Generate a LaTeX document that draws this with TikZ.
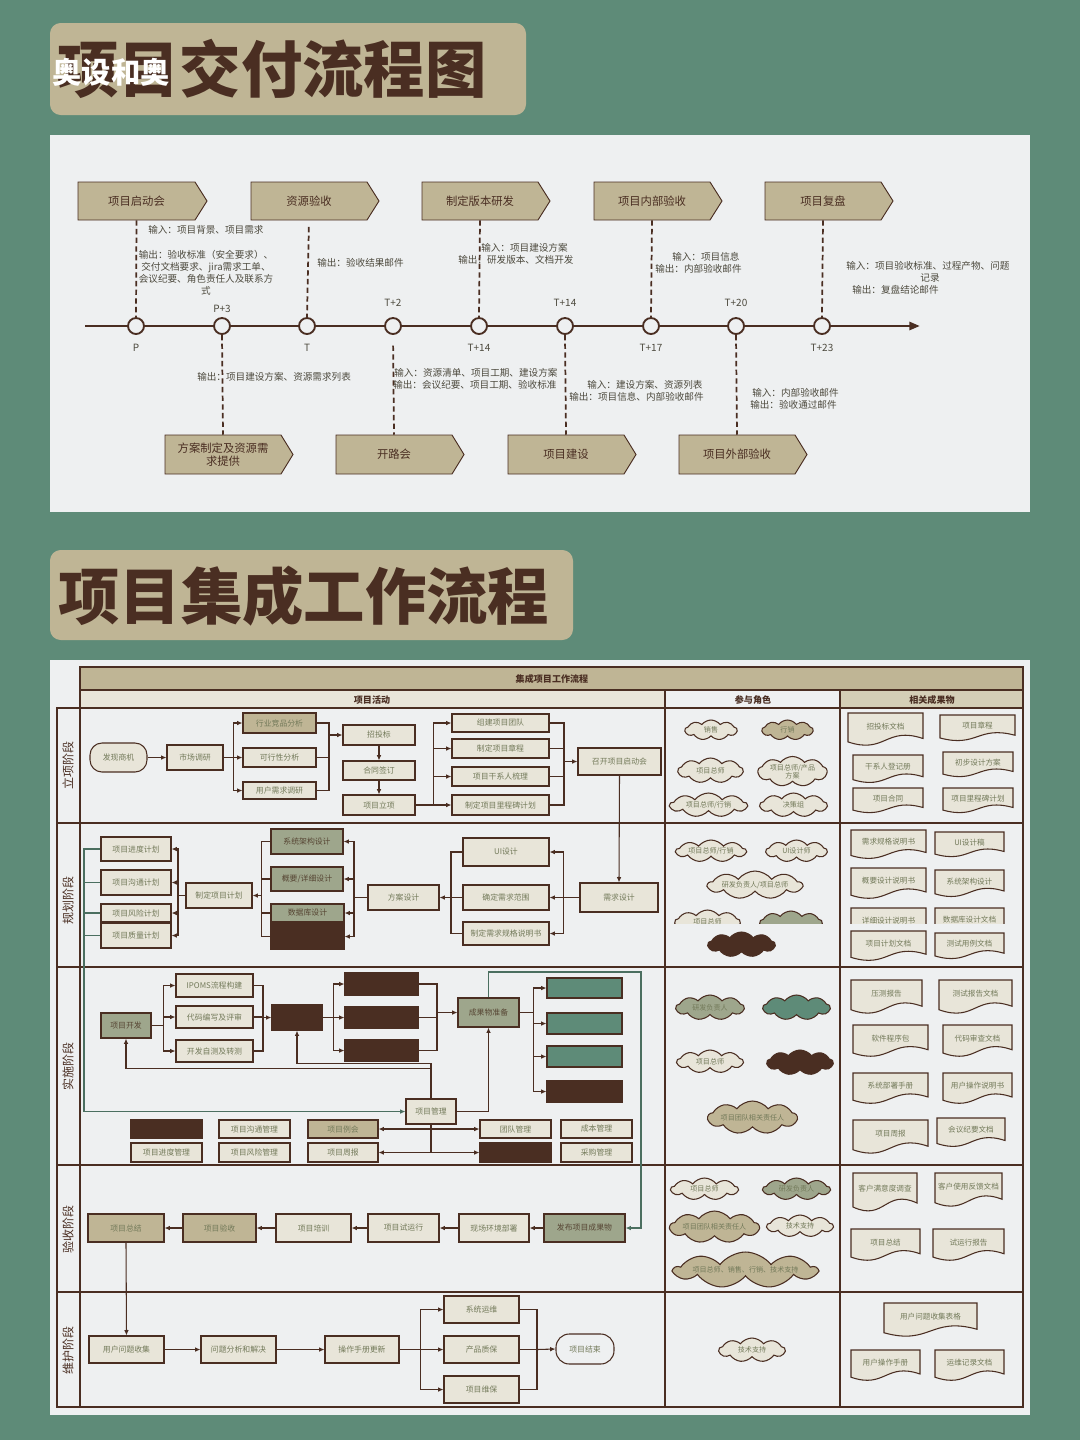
\documentclass[tikz,border=0pt]{standalone}
\usepackage{fontspec}
\setmainfont{Noto Sans CJK SC}
\usetikzlibrary{arrows.meta,shapes.symbols,calc}
\definecolor{bgteal}{HTML}{5E8B78}
\definecolor{tan}{HTML}{BFB595}
\definecolor{brn}{HTML}{4A2E22}
\definecolor{panel}{HTML}{EEF0F1}
\definecolor{ltf}{HTML}{E8E5D9}
\definecolor{tmix}{HTML}{9EA68C}
\definecolor{olv}{HTML}{737A5A}
\definecolor{anno}{HTML}{4D4A3E}
\definecolor{hdr}{HTML}{D4CEB6}

% box from corner coordinates: name, x1, y1, x2, y2, style, text
\newcommand\bx[7]{\node[#6, minimum width={(#4-#2)*0.75pt}, minimum height={(#5-#3)*0.75pt}] (#1) at ({(#2+#4)/2},{(#3+#5)/2}) {#7};}
% cloud: name, x1, y1, x2, y2, fill, text
\newcommand\cld[7]{\node[rolecloud, fill=#6, minimum width={(#4-#2)*0.75pt}, minimum height={(#5-#3)*0.75pt}] (#1) at ({(#2+#4)/2},{(#3+#5)/2}) {#7};}
% document with a wavy lower edge: name, x1, y1, x2, y2, fill, text
\newcommand\docu[7]{%
  \path[draw=brn, line width=0.8pt, fill=#6] (#2,#3) -- (#4,#3) -- (#4,{#5-0.25*(#5-#3)})
    .. controls ({#4-0.5*(#4-#2)},{#5-0.62*(#5-#3)}) and ({#2+0.5*(#4-#2)},{#5+0.22*(#5-#3)}) .. (#2,{#5-0.15*(#5-#3)}) -- cycle;
  \node[doctxt] (#1) at ({(#2+#4)/2},{#3+0.4*(#5-#3)}) {#7};}
% milestone tag with pointed right end: name, x1, y1, x2, y2, text
\newcommand\chev[6]{%
  \path[draw=brn, line width=0.7pt, fill=tan] (#2,#3) -- ({#4-12},#3) -- (#4,{(#3+#5)/2}) -- ({#4-12},#5) -- (#2,#5) -- cycle;
  \node[chevtxt, minimum width={(#4-12-#2)*0.75pt}, minimum height={(#5-#3)*0.75pt}] (#1) at ({(#2+#4-12)/2},{(#3+#5)/2}) {#6};}

\tikzset{
  tbox/.style={draw=brn, line width=0.8pt, inner sep=0.5pt, font=\fontsize{5.9}{6.6}\selectfont, text=olv, align=center},
  lt/.style={tbox, fill=ltf},
  tn/.style={tbox, fill=tan},
  dk/.style={tbox, fill=brn},
  tl/.style={tbox, fill=bgteal},
  tt/.style={tbox, fill=tmix, text=brn!70!olv},
  rolecloud/.style={cloud, cloud puffs=9, cloud puff arc=105, cloud ignores aspect, draw=brn, line width=0.8pt, inner sep=0pt, font=\fontsize{5.3}{6}\selectfont, text=olv, align=center},
  doctxt/.style={inner sep=0pt, font=\fontsize{5.7}{6.4}\selectfont, text=olv, align=center},
  chevtxt/.style={inner sep=0pt, font=\fontsize{8.5}{10}\selectfont, text=brn, align=center},
  anntxt/.style={inner sep=0pt, font=\fontsize{7.2}{9}\selectfont, text=anno, align=center},
  ticktxt/.style={inner sep=0pt, font=\fontsize{7.5}{9}\selectfont, text=anno},
  mstone/.style={circle, draw=brn, line width=1.4pt, fill=panel, minimum size=12pt, inner sep=0pt},
  guide/.style={draw=brn, line width=1.3pt, dash pattern=on 4pt off 2.5pt},
  arr/.style={-{Latex[length=4pt,width=3.5pt]}, draw=brn, line width=0.8pt},
  ln/.style={draw=brn, line width=0.8pt},
  tarr/.style={-{Latex[length=4pt,width=3.5pt]}, draw=bgteal!80!black, line width=0.9pt},
  tln/.style={draw=bgteal!80!black, line width=0.9pt},
  grid/.style={draw=brn, line width=0.9pt},
  stage/.style={rotate=90, inner sep=0pt, font=\fontsize{9}{10}\selectfont, text=brn},
  headline/.style={inner sep=0pt, font=\bfseries\fontsize{46}{48}\selectfont, text=brn},
}

\begin{document}
\begin{tikzpicture}[x=0.75pt, y=-0.75pt]
\useasboundingbox (0,0) rectangle (1080,1440);
\fill[bgteal] (0,0) rectangle (1080,1440);

% ---------------- headline 1 ----------------
\fill[tan, rounded corners=8pt] (50,23) rectangle (526,115);
\node[headline] (title1) at (272,69) {项目交付流程图};
\node[inner sep=0pt, font=\bfseries\fontsize{22}{24}\selectfont, text=white] (mark) at (111,72) {奥设和奥};

% ---------------- delivery timeline ----------------
\fill[panel] (50,135) rectangle (1030,512);

\coordinate (t0) at (85,326);
\coordinate (t1) at (920,326);
\draw[brn, line width=2pt, -{Triangle[length=8pt,width=6pt]}] (t0) -- (t1);

\node[mstone] (c1) at (136,326) {};
\node[mstone] (c2) at (222,326) {};
\node[mstone] (c3) at (307,326) {};
\node[mstone] (c4) at (393,326) {};
\node[mstone] (c5) at (479,326) {};
\node[mstone] (c6) at (565,326) {};
\node[mstone] (c7) at (651,326) {};
\node[mstone] (c8) at (736,326) {};
\node[mstone] (c9) at (822,326) {};

\node[ticktxt] (l1) at (136,348) {P};
\node[ticktxt] (l2) at (222,309) {P+3};
\node[ticktxt] (l3) at (307,348) {T};
\node[ticktxt] (l4) at (393,303) {T+2};
\node[ticktxt] (l5) at (479,348) {T+14};
\node[ticktxt] (l6) at (565,303) {T+14};
\node[ticktxt] (l7) at (651,348) {T+17};
\node[ticktxt] (l8) at (736,303) {T+20};
\node[ticktxt] (l9) at (822,348) {T+23};

\chev{m1}{78}{182}{207}{220}{项目启动会}
\chev{m2}{251}{182}{379}{220}{资源验收}
\chev{m3}{422}{182}{550}{220}{制定版本研发}
\chev{m4}{594}{182}{722}{220}{项目内部验收}
\chev{m5}{765}{182}{893}{220}{项目复盘}
\chev{m6}{165}{435}{293}{474}{方案制定及资源需\\求提供}
\chev{m7}{336}{435}{464}{474}{开路会}
\chev{m8}{508}{435}{636}{474}{项目建设}
\chev{m9}{679}{435}{807}{474}{项目外部验收}

\draw[guide] (m1.south) -- (c1.north);
\draw[guide, shorten <=5pt] (m2.south) -- (c3.north);
\draw[guide] (m3.south) -- (c5.north);
\draw[guide] (m4.south) -- (c7.north);
\draw[guide] (m5.south) -- (c9.north);
\draw[guide] (c2.south) -- (m6.north);
\draw[guide, shorten <=8pt] (c4.south) -- (m7.north);
\draw[guide] (c6.south) -- (m8.north);
\draw[guide] (c8.south) -- (m9.north);

\node[anntxt, anchor=west] (a1) at (148,230) {输入：项目背景、项目需求};
\node[anntxt] (a2) at (206,273) {输出：验收标准（安全要求）、\\交付文档要求、jira需求工单、\\会议纪要、角色责任人及联系方\\式};
\node[anntxt, anchor=west] (a3) at (317,263) {输出：验收结果邮件};
\node[anntxt, anchor=west] (a4) at (481,248) {输入：项目建设方案};
\node[anntxt, anchor=west] (a5) at (458,260) {输出：研发版本、文档开发};
\node[anntxt, anchor=west] (a6) at (672,257) {输入：项目信息};
\node[anntxt, anchor=west] (a7) at (655,269) {输出：内部验收邮件};
\node[anntxt, anchor=west] (a8) at (846,266) {输入：项目验收标准、过程产物、问题};
\node[anntxt] (a9) at (930,278) {记录};
\node[anntxt, anchor=west] (a10) at (852,290) {输出：复盘结论邮件};
\node[anntxt, anchor=west] (a11) at (197,377) {输出：项目建设方案、资源需求列表};
\node[anntxt, anchor=west] (a12) at (394,373) {输入：资源清单、项目工期、建设方案};
\node[anntxt, anchor=west] (a13) at (393,385) {输出：会议纪要、项目工期、验收标准};
\node[anntxt, anchor=west] (a14) at (587,385) {输入：建设方案、资源列表};
\node[anntxt, anchor=west] (a15) at (569,397) {输出：项目信息、内部验收邮件};
\node[anntxt, anchor=west] (a16) at (752,393) {输入：内部验收邮件};
\node[anntxt, anchor=west] (a17) at (750,405) {输出：验收通过邮件};

% ---------------- headline 2 ----------------
\fill[tan, rounded corners=8pt] (50,550) rectangle (573,640);
\node[headline] (title2) at (304,596) {项目集成工作流程};

% ---------------- integration workflow table ----------------
\fill[panel] (50,660) rectangle (1030,1415);
\path[grid, fill=tan] (80,667) rectangle (1023,690);
\node[inner sep=0pt, font=\bfseries\fontsize{6.8}{8}\selectfont, text=brn] (h0) at (552,679) {集成项目工作流程};
\path[grid, fill=ltf] (80,690) rectangle (665,708);
\path[grid, fill=panel] (665,690) rectangle (840,708);
\path[grid, fill=hdr] (840,690) rectangle (1023,708);
\node[inner sep=0pt, font=\bfseries\fontsize{6.8}{8}\selectfont, text=brn] (h1) at (372,700) {项目活动};
\node[inner sep=0pt, font=\bfseries\fontsize{6.8}{8}\selectfont, text=brn] (h2) at (753,700) {参与角色};
\node[inner sep=0pt, font=\bfseries\fontsize{6.8}{8}\selectfont, text=brn] (h3) at (932,700) {相关成果物};

\foreach \ya/\yb in {708/823, 823/967, 967/1165, 1165/1292, 1292/1407} {
  \path[grid] (57,\ya) rectangle (80,\yb);
  \path[grid] (80,\ya) rectangle (665,\yb);
  \path[grid] (665,\ya) rectangle (840,\yb);
  \path[grid] (840,\ya) rectangle (1023,\yb);
}
\node[stage] (s1) at (68,765) {立项阶段};
\node[stage] (s2) at (68,900) {规划阶段};
\node[stage] (s3) at (68,1066) {实施阶段};
\node[stage] (s4) at (68,1229) {验收阶段};
\node[stage] (s5) at (68,1350) {维护阶段};

% --- initiation ---
\bx{fxsj}{90}{743}{147}{772}{lt, rounded corners=9pt}{发现商机}
\bx{scdy}{167}{745}{223}{770}{lt}{市场调研}
\bx{hyjp}{243}{713}{316}{733}{tn}{行业竞品分析}
\bx{kxx}{243}{748}{316}{767}{lt}{可行性分析}
\bx{yhxq}{243}{782}{316}{799}{lt}{用户需求调研}
\bx{ztb}{343}{725}{415}{745}{lt}{招投标}
\bx{htqd}{343}{761}{415}{780}{lt}{合同签订}
\bx{xmlx}{343}{795}{415}{815}{lt}{项目立项}
\bx{zjtd}{452}{714}{549}{732}{lt}{组建项目团队}
\bx{zdzc}{452}{739}{549}{758}{lt}{制定项目章程}
\bx{gxr}{452}{767}{549}{786}{lt}{项目干系人梳理}
\bx{lcb}{452}{795}{549}{815}{lt}{制定项目里程碑计划}
\bx{qdh}{578}{748}{661}{775}{lt}{召开项目启动会}

\draw[arr] (fxsj) -- (scdy);
\foreach \t in {hyjp,kxx,yhxq} \draw[arr] (scdy.east) -- ++(10,0) |- (\t.west);
\coordinate (j1) at (329,735);
\foreach \t in {hyjp,kxx,yhxq} \draw[ln] (\t.east) -| (j1);
\draw[arr] (j1) -- (ztb.west);
\draw[arr] (ztb) -- (htqd);
\draw[arr] (htqd) -- (xmlx);
\foreach \t in {zjtd,zdzc,gxr,lcb} \draw[arr] (xmlx.east) -- ++(18,0) |- (\t.west);
\coordinate (j2) at (564,761.5);
\foreach \t in {zjtd,zdzc,gxr,lcb} \draw[ln] (\t.east) -| (j2);
\draw[arr] (j2) -- (qdh.west);

\cld{r1}{685}{720}{737}{740}{ltf}{销售}
\cld{r2}{762}{720}{813}{740}{tan}{行销}
\cld{r3}{678}{758}{743}{783}{ltf}{项目总师}
\cld{r4}{758}{757}{827}{786}{ltf}{项目总师/产品\\方案}
\cld{r5}{670}{793}{747}{817}{ltf}{项目总师/行销}
\cld{r6}{760}{793}{827}{817}{ltf}{决策组}

\docu{d1}{848}{713}{923}{747}{ltf}{招投标文档}
\docu{d2}{940}{715}{1015}{742}{ltf}{项目章程}
\docu{d3}{853}{755}{923}{784}{ltf}{干系人登记册}
\docu{d4}{943}{752}{1013}{778}{ltf}{初步设计方案}
\docu{d5}{853}{788}{923}{814}{ltf}{项目合同}
\docu{d6}{943}{788}{1013}{814}{ltf}{项目里程碑计划}

% --- planning ---
\bx{jdjh}{101}{837}{171}{861}{lt}{项目进度计划}
\bx{gtjh}{101}{870}{171}{895}{lt}{项目沟通计划}
\bx{fxjh}{101}{904}{171}{922}{lt}{项目风险计划}
\bx{zljh}{101}{923}{171}{948}{lt}{项目质量计划}
\bx{zdjh}{186}{883}{252}{908}{lt}{制定项目计划}
\bx{jgsj}{271}{829}{343}{854}{tt}{系统架构设计}
\bx{gysj}{271}{867}{343}{891}{tt}{概要/详细设计}
\bx{sjk}{271}{904}{344}{922}{tt}{数据库设计}
\bx{dka}{271}{924}{344}{949}{dk}{}
\bx{fasj}{368}{885}{439}{910}{lt}{方案设计}
\bx{uisj}{463}{838}{549}{866}{lt}{UI设计}
\bx{qdfw}{463}{885}{549}{910}{lt}{确定需求范围}
\bx{ggsm}{463}{922}{549}{945}{lt}{制定需求规格说明书}
\bx{xqsj}{580}{883}{658}{912}{lt}{需求设计}

\draw[arr] (qdh.south) -- (xqsj.north);
\foreach \t in {uisj,qdfw,ggsm} \draw[arr] (xqsj.west) -- ++(-16,0) |- (\t.east);
\coordinate (j3) at (451,897.5);
\foreach \t in {uisj,qdfw,ggsm} \draw[ln] (\t.west) -| (j3);
\draw[arr] (j3) -- (fasj.east);
\foreach \t in {jgsj,gysj,sjk,dka} \draw[arr] (fasj.west) -- ++(-13.5,0) |- (\t.east);
\coordinate (j4) at (261.5,895.5);
\foreach \t in {jgsj,gysj,sjk,dka} \draw[ln] (\t.west) -| (j4);
\draw[arr] (j4) -- (zdjh.east);
\foreach \t in {jdjh,gtjh,fxjh,zljh} \draw[arr] (zdjh.west) -- ++(-7.5,0) |- (\t.east);

\cld{r7}{676}{840}{746}{862}{ltf}{项目总师/行销}
\cld{r8}{766}{840}{827}{862}{ltf}{UI设计师}
\cld{r9}{708}{871}{802}{899}{ltf}{研发负责人/项目总师}
\begin{scope}
  \clip (666,900) rectangle (839,923);
  \cld{r10}{675}{910}{740}{934}{ltf}{项目总师}
  \cld{r11}{760}{911}{822}{934}{tmix}{}
\end{scope}
\cld{r12}{708}{932}{775}{957}{brn}{}

\docu{d7}{851}{830}{926}{860}{ltf}{需求规格说明书}
\docu{d8}{935}{832}{1004}{858}{ltf}{UI设计稿}
\docu{d9}{851}{868}{926}{900}{ltf}{概要设计说明书}
\docu{d10}{935}{870}{1004}{898}{ltf}{系统架构设计}
\begin{scope}
  \clip (841,905) rectangle (1022,923);
  \docu{d11}{851}{908}{926}{940}{ltf}{详细设计说明书}
  \docu{d12}{935}{908}{1004}{938}{ltf}{数据库设计文档}
\end{scope}
\docu{d13}{851}{931}{926}{962}{ltf}{项目计划文档}
\docu{d14}{935}{933}{1004}{960}{ltf}{测试用例文档}

% --- implementation ---
\bx{xmkf}{101}{1013}{151}{1038}{tt}{项目开发}
\bx{ipoms}{176}{974}{253}{997}{lt}{IPOMS流程构建}
\bx{dmbx}{176}{1006}{253}{1028}{lt}{代码编写及评审}
\bx{kfzc}{176}{1040}{253}{1062}{lt}{开发自测及转测}
\bx{dkb}{272}{1005}{322}{1030}{dk}{}
\bx{dkc}{345}{973}{418}{995}{dk}{}
\bx{dkd}{345}{1007}{418}{1028}{dk}{}
\bx{dke}{345}{1040}{418}{1061}{dk}{}
\bx{cgzb}{458}{998}{519}{1027}{tt}{成果物准备}
\bx{tla}{547}{978}{622}{998}{tl}{}
\bx{tlb}{547}{1013}{622}{1034}{tl}{}
\bx{tlc}{547}{1046}{622}{1067}{tl}{}
\bx{dkf}{547}{1081}{622}{1102}{dk}{}
\bx{xmgl}{406}{1099}{456}{1124}{lt}{项目管理}
\bx{dkg}{131}{1120}{202}{1138}{dk}{}
\bx{gtgl}{219}{1120}{290}{1138}{lt}{项目沟通管理}
\bx{xmlh}{308}{1120}{378}{1138}{tn}{项目例会}
\bx{tdgl}{480}{1120}{551}{1138}{lt}{团队管理}
\bx{cbgl}{561}{1120}{632}{1138}{lt}{成本管理}
\bx{jdgl}{131}{1143}{202}{1162}{lt}{项目进度管理}
\bx{fxgl}{219}{1143}{290}{1162}{lt}{项目风险管理}
\bx{xmzb}{308}{1143}{378}{1162}{lt}{项目周报}
\bx{dkh}{480}{1143}{551}{1162}{dk}{}
\bx{cggl}{561}{1143}{632}{1162}{lt}{采购管理}

\coordinate (v0) at (84,1111.5);
\draw[tarr] (jdjh.west) -| (v0) -- (xmgl.west);
\foreach \t in {gtjh,fxjh,zljh} \draw[tln] (\t.west) -- (\t.west -| v0);

\foreach \t in {ipoms,dmbx,kfzc} \draw[arr] (xmkf.east) -- ++(12,0) |- (\t.west);
\coordinate (j5) at (263,1017.5);
\foreach \t in {ipoms,dmbx,kfzc} \draw[ln] (\t.east) -| (j5);
\draw[arr] (j5) -- (dkb.west);
\foreach \t in {dkc,dkd,dke} \draw[arr] (dkb.east) -- ++(11,0) |- (\t.west);
\coordinate (j6) at (437,1012.5);
\foreach \t in {dkc,dkd,dke} \draw[ln] (\t.east) -| (j6);
\draw[arr] (j6) -- (cgzb.west);
\foreach \t in {tla,tlb,tlc,dkf} \draw[arr] (cgzb.east) -- ++(14,0) |- (\t.west);
\draw[arr] (xmgl.east) -| (cgzb.south);
\draw[arr] (xmgl.north) -- ++(0,-35) -| (dkb.south);
\draw[arr] (xmgl.north) -- ++(0,-30) -| (xmkf.south);
\foreach \t in {xmlh,xmzb} \draw[arr] (xmgl.south) |- (\t.east);
\foreach \t in {tdgl,dkh} \draw[arr] (xmgl.south) |- (\t.west);

\cld{r13}{676}{995}{744}{1020}{tmix}{研发负责人}
\cld{r14}{763}{995}{830}{1020}{bgteal}{}
\cld{r15}{677}{1050}{743}{1073}{ltf}{项目总师}
\cld{r16}{767}{1050}{833}{1075}{brn}{}
\cld{r17}{708}{1101}{797}{1134}{tan}{项目团队相关责任人}

\docu{d15}{851}{980}{922}{1015}{ltf}{压测报告}
\docu{d16}{939}{980}{1012}{1015}{ltf}{测试报告文档}
\docu{d17}{853}{1025}{928}{1058}{ltf}{软件程序包}
\docu{d18}{943}{1025}{1012}{1058}{ltf}{代码审查文档}
\docu{d19}{853}{1073}{928}{1105}{ltf}{系统部署手册}
\docu{d20}{943}{1073}{1012}{1105}{ltf}{用户操作说明书}
\docu{d21}{853}{1120}{928}{1155}{ltf}{项目周报}
\docu{d22}{937}{1118}{1005}{1148}{ltf}{会议纪要文档}

% --- acceptance ---
\bx{xmzj}{88}{1214}{164}{1242}{tn}{项目总结}
\bx{xmys}{183}{1214}{256}{1242}{tn}{项目验收}
\bx{xmpx}{276}{1214}{351}{1242}{lt}{项目培训}
\bx{syx}{368}{1214}{439}{1242}{lt}{项目试运行}
\bx{xcbs}{459}{1214}{529}{1242}{lt}{现场环境部署}
\bx{fbcg}{544}{1214}{625}{1242}{tt}{发布项目成果物}

\coordinate (v1) at (641,972);
\draw[tarr] (cgzb.north) |- (v1) |- (fbcg.east);
\draw[arr] (fbcg) -- (xcbs);
\draw[arr] (xcbs) -- (syx);
\draw[arr] (syx) -- (xmpx);
\draw[arr] (xmpx) -- (xmys);
\draw[arr] (xmys) -- (xmzj);

\cld{r18}{671}{1178}{738}{1200}{ltf}{项目总师}
\cld{r19}{763}{1178}{830}{1200}{tmix}{研发负责人}
\cld{r20}{670}{1211}{759}{1243}{tan}{项目团队相关责任人}
\cld{r21}{767}{1215}{833}{1237}{ltf}{技术支持}
\cld{r22}{675}{1252}{816}{1288}{tan}{项目总师、销售、行销、技术支持}

\docu{d23}{853}{1173}{917}{1213}{ltf}{客户满意度调查}
\docu{d24}{935}{1173}{1002}{1208}{ltf}{客户使用反馈文档}
\docu{d25}{851}{1229}{920}{1262}{ltf}{项目总结}
\docu{d26}{933}{1229}{1004}{1262}{ltf}{试运行报告}

% --- maintenance ---
\bx{yhwt}{89}{1336}{164}{1363}{lt}{用户问题收集}
\bx{wtfx}{201}{1336}{276}{1363}{lt}{问题分析和解决}
\bx{czsc}{325}{1336}{399}{1363}{lt}{操作手册更新}
\bx{xtyw}{444}{1296}{519}{1323}{lt}{系统运维}
\bx{cpzb}{444}{1336}{519}{1363}{lt}{产品质保}
\bx{xmwb}{444}{1376}{519}{1403}{lt}{项目维保}
\bx{xmjs}{556}{1334}{614}{1364}{tbox, fill=panel, rounded corners=10pt}{项目结束}

\draw[arr] (xmzj.south) -- (yhwt.north);
\draw[arr] (yhwt) -- (wtfx);
\draw[arr] (wtfx) -- (czsc);
\foreach \t in {xtyw,cpzb,xmwb} \draw[arr] (czsc.east) -- ++(21,0) |- (\t.west);
\coordinate (j7) at (537,1349.5);
\foreach \t in {xtyw,cpzb,xmwb} \draw[ln] (\t.east) -| (j7);
\draw[arr] (j7) -- (xmjs.west);

\cld{r23}{719}{1338}{785}{1362}{ltf}{技术支持}
\docu{d27}{884}{1303}{977}{1338}{ltf}{用户问题收集表格}
\docu{d28}{851}{1350}{920}{1382}{ltf}{用户操作手册}
\docu{d29}{935}{1350}{1004}{1382}{ltf}{运维记录文档}
\end{tikzpicture}
\end{document}
